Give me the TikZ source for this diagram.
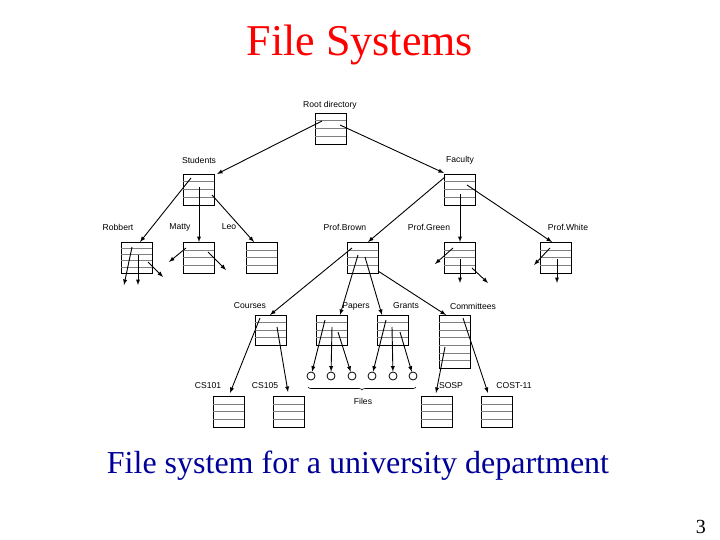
\documentclass[tikz,border=0pt]{standalone}
\usepackage{fontspec}
\setmainfont{Liberation Serif}
\newfontfamily\lab{Liberation Sans}
\usetikzlibrary{decorations.pathreplacing}
\begin{document}
\begin{tikzpicture}[x=1pt,y=-1pt,
  lbl/.style={font=\lab\fontsize{8.6}{9}\selectfont,inner sep=0pt},
  ar/.style={-latex,line width=0.9pt},
  fl/.style={circle,draw,line width=0.8pt,minimum size=8pt,inner sep=0pt}]
\useasboundingbox (0,0) rectangle (720,540);
\newcommand\dbox[6]{%
  \node[draw,line width=0.8pt,minimum width=#4pt,minimum height=#5pt,inner sep=0pt,anchor=north west] (#1) at (#2,#3) {};
  \foreach \k in {1,...,\numexpr#6-1\relax}{\draw[line width=0.5pt,gray] (#2,#3+\k*#5/#6) -- (#2+#4,#3+\k*#5/#6);}}
\node[text=red,font=\fontsize{44}{46}\selectfont] (title) at (360,45) {File Systems};
\node[text=blue!60!black,font=\fontsize{32}{34}\selectfont] (cap) at (358,466) {File system for a university department};
\node[font=\fontsize{20}{22}\selectfont,anchor=east,inner sep=1pt] (pg) at (707,527) {3};
\dbox{root}{315}{113}{31}{31}{4}
\dbox{stu}{183}{174}{31}{31}{4}
\dbox{fac}{444}{174}{31}{31}{4}
\dbox{rob}{121}{242}{31}{31}{5}
\dbox{mat}{183}{242}{31}{31}{4}
\dbox{leo}{246}{242}{31}{31}{4}
\dbox{bro}{347}{242}{31}{31}{4}
\dbox{gre}{444}{242}{31}{31}{4}
\dbox{whi}{540}{242}{31}{31}{4}
\dbox{cou}{255}{315}{31}{30}{4}
\dbox{pap}{316}{315}{31}{30}{4}
\dbox{gra}{377}{315}{31}{30}{4}
\dbox{com}{439}{315}{31}{53}{7}
\dbox{cs1}{213}{396}{31}{31}{4}
\dbox{cs5}{273}{396}{31}{31}{4}
\dbox{sos}{421}{396}{31}{31}{4}
\dbox{cos}{481}{396}{31}{31}{4}
\foreach \n/\x in {f1/311,f2/331,f3/352,f4/372,f5/393,f6/413}{\node[fl] (\n) at (\x,376) {};}
\node[lbl] (lroot) at (330,105) {Root directory};
\node[lbl] (lstu) at (199,160) {Students};
\node[lbl] (lfac) at (460,160) {Faculty};
\node[lbl] (lrob) at (118,227) {Robbert};
\node[lbl] (lmat) at (180,227) {Matty};
\node[lbl] (lleo) at (229,227) {Leo};
\node[lbl] (lbro) at (345,227) {Prof.Brown};
\node[lbl] (lgre) at (429,227) {Prof.Green};
\node[lbl] (lwhi) at (568,227) {Prof.White};
\node[lbl] (lcou) at (250,306) {Courses};
\node[lbl] (lpap) at (356,306) {Papers};
\node[lbl] (lgra) at (406,306) {Grants};
\node[lbl] (lcom) at (473,306) {Committees};
\node[lbl] (lcs1) at (208,386) {CS101};
\node[lbl] (lcs5) at (265,386) {CS105};
\node[lbl] (lsos) at (451,386) {SOSP};
\node[lbl] (lcos) at (514,386) {COST-11};
\node[lbl] (lfil) at (363,401) {Files};
\draw[decorate,decoration={brace,mirror,amplitude=3pt},line width=0.6pt] (308,387) -- (416,387);
\draw[ar] (322,121) -- (217,174);
\draw[ar] (340,125) -- (444,173);
\draw[ar] (191,178) -- (140,242);
\draw[ar] (199,187) -- (199,242);
\draw[ar] (212,195) -- (254,242);
\draw[ar] (445,177) -- (368,242);
\draw[ar] (460,194) -- (460,242);
\draw[ar] (467,185) -- (552,242);
\draw[ar] (132,247) -- (124,285);
\draw[ar] (138,255) -- (138,285);
\draw[ar] (148,262) -- (163,277);
\draw[ar] (186,248) -- (169,262);
\draw[ar] (208,252) -- (226,270);
\draw[ar] (453,248) -- (435,264);
\draw[ar] (460,259) -- (460,283);
\draw[ar] (472,268) -- (488,283);
\draw[ar] (550,248) -- (534,265);
\draw[ar] (557,259) -- (557,283);
\draw[ar] (352,248) -- (270,315);
\draw[ar] (358,255) -- (340,315);
\draw[ar] (365,257) -- (382,315);
\draw[ar] (378,271) -- (446,315);
\draw[ar] (260,318) -- (230,393);
\draw[ar] (277,327) -- (288,392);
\draw[ar] (325,320) -- (f1);
\draw[ar] (332,327) -- (f2);
\draw[ar] (338,332) -- (f3);
\draw[ar] (386,320) -- (f4);
\draw[ar] (392,327) -- (f5);
\draw[ar] (400,332) -- (f6);
\draw[ar] (445,347) -- (436,393);
\draw[ar] (463,318) -- (488,393);
\end{tikzpicture}
\end{document}
